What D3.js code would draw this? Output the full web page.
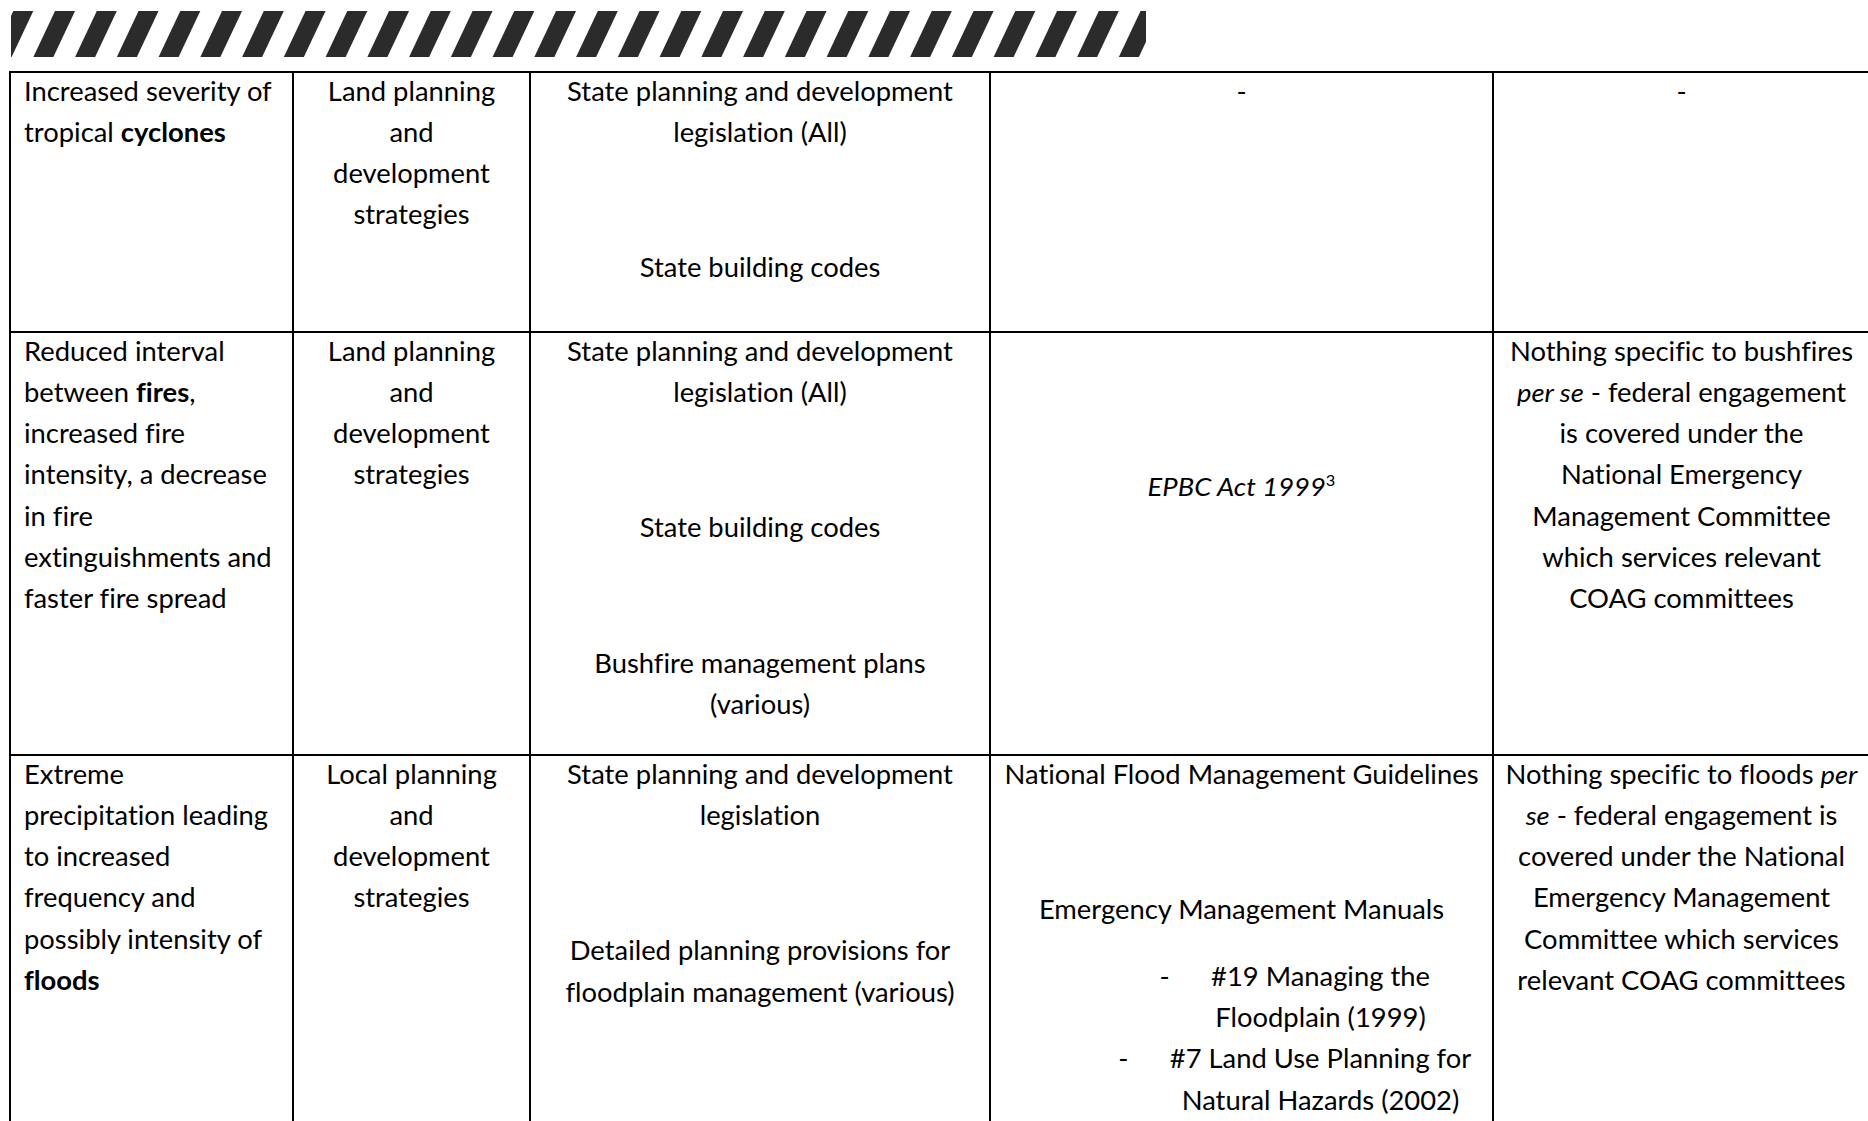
<!DOCTYPE html>
<html><head><meta charset="utf-8">
<script src="https://cdn.jsdelivr.net/npm/d3@7"></script>
<style>html,body{margin:0;padding:0;background:#fff;} svg{display:block} text{font-variant-ligatures:none;font-feature-settings:"liga" 0,"clig" 0;}</style>
</head><body><svg id="chart"></svg>
<script>
// ---------------- DATA ----------------
const hazards = [
  ["Increased severity of", "tropical **cyclones**"],
  ["Reduced interval", "between **fires**,", "increased fire", "intensity, a decrease", "in fire", "extinguishments and", "faster fire spread"],
  ["Extreme", "precipitation leading", "to increased", "frequency and", "possibly intensity of", "**floods**"]
];
const localResponses = [
  [["Land planning", "and", "development", "strategies"]],
  [["Land planning", "and", "development", "strategies"]],
  [["Local planning", "and", "development", "strategies"]]
];
const stateResponses = [
  [["State planning and development", "legislation (All)"], ["State building codes"]],
  [["State planning and development", "legislation (All)"], ["State building codes"], ["Bushfire management plans", "(various)"]],
  [["State planning and development", "legislation"], ["Detailed planning provisions for", "floodplain management (various)"]]
];
const nationalResponses = [
  [["-"]],
  [[""], ["_EPBC Act 1999_^3^"]],
  [["National Flood Management Guidelines"], ["Emergency Management Manuals"]]
];
const nationalListItems = [
  [],
  [],
  [["#19 Managing the", "Floodplain (1999)"], ["#7 Land Use Planning for", "Natural Hazards (2002)"]]
];
const federalResponses = [
  [["-"]],
  [["Nothing specific to bushfires", "_per se_ - federal engagement", "is covered under the", "National Emergency", "Management Committee", "which services relevant", "COAG committees"]],
  [["Nothing specific to floods _per_", "_se_ - federal engagement is", "covered under the National", "Emergency Management", "Committee which services", "relevant COAG committees"]]
];

// ---------------- LAYOUT ----------------
const W = 1868, H = 1121;
const FONT = "Lato, 'Open Sans', sans-serif";
const FS = 26;
const LINE = 41.3, PARA_GAP = 135.5, LIST_GAP = 66.7, FIRST_BASE = 28.5;
const LIST_OFFSET = 79, DASH_GAP = 46.5;
const colEdges = [10, 293, 530, 990, 1493, 1870];
const rowTops = [72, 332, 755];
const PAD_LEFT = 14;

const svg = d3.select("#chart").attr("width", W).attr("height", H);

// column index -> centre of column, row index -> top of row
const colIndex = d3.range(colEdges.length - 1);
const xCenter = d3.scaleOrdinal().domain(colIndex).range(colIndex.map(i => (colEdges[i] + colEdges[i + 1]) / 2));
const yRow = d3.scaleOrdinal().domain(d3.range(rowTops.length)).range(rowTops);

// ---------------- STRIPE BAND ----------------
const band = {x0: 11, x1: 1146, y0: 11, y1: 57, period: 41.75, width: 20, slant: 21.7, start: -8.4};
svg.append("defs").append("clipPath").attr("id", "bandClip")
  .append("rect").attr("x", band.x0).attr("y", band.y0)
  .attr("width", band.x1 - band.x0).attr("height", band.y1 - band.y0);
svg.append("g").attr("clip-path", "url(#bandClip)")
  .selectAll("path").data(d3.range(0, 29).map(i => band.start + i * band.period)).join("path")
  .attr("d", x => `M${x},${band.y1}L${x + band.width},${band.y1}L${x + band.width + band.slant},${band.y0}L${x + band.slant},${band.y0}Z`)
  .attr("fill", "#2b2b2b");

// ---------------- TEXT ----------------
const probe = svg.append("text").attr("font-family", FONT).attr("font-size", FS).text("State planning and development");
const K = 386 / probe.node().getComputedTextLength();
probe.remove();

const textG = svg.append("g");
function richText(str, x, y, anchor) {
  const t = textG.append("text")
    .attr("transform", `translate(${x},${y}) scale(${K},1)`)
    .attr("text-anchor", anchor)
    .attr("font-family", FONT).attr("font-size", FS).attr("fill", "#000");
  const parts = str.split(/(\*\*[^*]+\*\*|_[^_]+_|\^[^^]+\^)/).filter(s => s.length);
  parts.forEach(p => {
    const ts = t.append("tspan");
    if (p.startsWith("**")) ts.attr("font-weight", "bold").text(p.slice(2, -2));
    else if (p.startsWith("_")) ts.attr("font-style", "italic").text(p.slice(1, -1));
    else if (p.startsWith("^")) ts.attr("font-size", FS * 0.6).attr("dy", -10).text(p.slice(1, -1));
    else ts.text(p);
  });
  return t;
}

function drawCell(paras, x, top, anchor, listItems) {
  let y = top + FIRST_BASE;
  paras.forEach((para, pi) => {
    if (pi > 0) y += PARA_GAP;
    para.forEach((line, li) => {
      if (li > 0) y += LINE;
      if (line) richText(line, x, y, anchor);
    });
  });
  if (listItems && listItems.length) {
    y += LIST_GAP - LINE;
    const cx = x + LIST_OFFSET;
    listItems.forEach(item => {
      item.forEach((line, li) => {
        y += LINE;
        const t = richText(line, cx, y, "middle");
        if (li === 0) {
          const w = t.node().getComputedTextLength() * K;
          richText("-", cx - w / 2 - DASH_GAP, y, "middle");
        }
      });
    });
  }
}

hazards.forEach((lines, r) => drawCell([lines], colEdges[0] + PAD_LEFT, yRow(r), "start"));
localResponses.forEach((paras, r) => drawCell(paras, xCenter(1), yRow(r), "middle"));
stateResponses.forEach((paras, r) => drawCell(paras, xCenter(2), yRow(r), "middle"));
nationalResponses.forEach((paras, r) => drawCell(paras, xCenter(3), yRow(r), "middle", nationalListItems[r]));
federalResponses.forEach((paras, r) => drawCell(paras, xCenter(4), yRow(r), "middle"));

// ---------------- GRID ----------------
const grid = svg.append("g").attr("stroke", "#000").attr("stroke-width", 2);
grid.selectAll("line.h").data(rowTops).join("line").attr("class", "h")
  .attr("x1", colEdges[0] - 1).attr("x2", W + 10).attr("y1", d => d).attr("y2", d => d);
grid.selectAll("line.v").data(colEdges).join("line").attr("class", "v")
  .attr("x1", d => d).attr("x2", d => d).attr("y1", rowTops[0] - 1).attr("y2", H + 10);
</script>
</body></html>
